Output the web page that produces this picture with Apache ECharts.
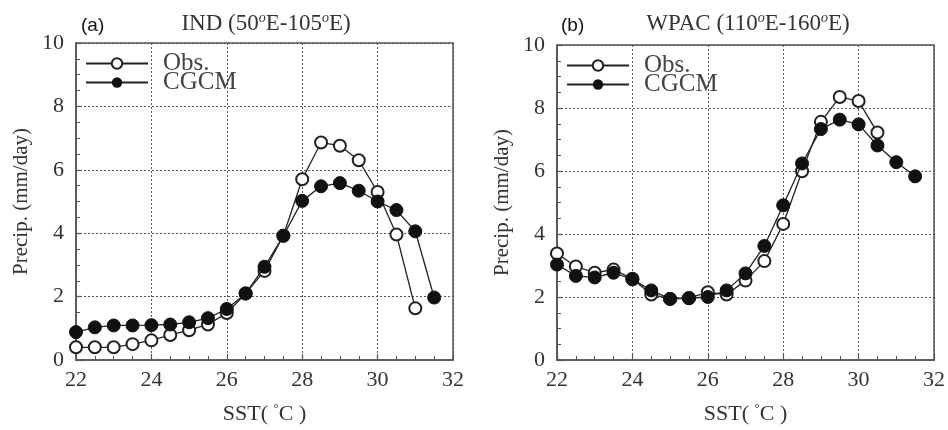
<!DOCTYPE html>
<html>
<head>
<meta charset="utf-8">
<script src="https://cdn.jsdelivr.net/npm/echarts@6/dist/echarts.min.js"></script>
<style>
html,body{margin:0;padding:0;background:#fff;}
#chart{width:948px;height:430px;}
</style>
</head>
<body>
<div id="chart"></div>
<script>
// SST bins (°C)
const sstObsInd  = [22,22.5,23,23.5,24,24.5,25,25.5,26,26.5,27,27.5,28,28.5,29,29.5,30,30.5,31];
const sstCgcm    = [22,22.5,23,23.5,24,24.5,25,25.5,26,26.5,27,27.5,28,28.5,29,29.5,30,30.5,31,31.5];
const sstObsWpac = [22,22.5,23,23.5,24,24.5,25,25.5,26,26.5,27,27.5,28,28.5,29,29.5,30,30.5];

// (a) IND precipitation (mm/day)
const indObs  = [0.40,0.40,0.40,0.50,0.62,0.79,0.94,1.12,1.48,2.10,2.81,3.92,5.70,6.86,6.76,6.30,5.30,3.96,1.63];
const indCgcm = [0.88,1.03,1.09,1.09,1.10,1.12,1.19,1.32,1.61,2.10,2.94,3.92,5.02,5.48,5.58,5.34,5.00,4.73,4.06,1.97];

// (b) WPAC precipitation (mm/day)
const wpacObs  = [3.38,2.97,2.77,2.87,2.58,2.08,1.94,1.97,2.15,2.08,2.52,3.14,4.32,5.99,7.56,8.35,8.22,7.22];
const wpacCgcm = [3.03,2.67,2.62,2.77,2.56,2.21,1.94,1.96,2.00,2.21,2.75,3.62,4.91,6.24,7.33,7.63,7.48,6.81,6.28,5.83];

const xTicks = [22,24,26,28,30,32];
const yTicks = [0,2,4,6,8,10];
const seriesNames = ['Obs.', 'CGCM'];
const panelLabels = ['(a)', '(b)'];
const panelTitles = [['IND (50','E-105','E)'], ['WPAC (110','E-160','E)']];
const xName = 'SST( ';
const yName = 'Precip. (mm/day)';

function pairs(xs, ys){ return xs.map((x,i)=>[x, ys[i]]); }

const SERIF = 'Liberation Serif, DejaVu Serif, serif';
const grids = [
  {left:76, top:43, width:377, height:325},
  {left:557, top:45, width:378, height:324}
];

function makeX(i){
  return {
    type:'value', gridIndex:i, min:xTicks[0], max:xTicks[xTicks.length-1], interval:2,
    axisLine:{show:true, lineStyle:{color:'#555', width:1.5}},
    axisTick:{show:true, inside:true, length:6, lineStyle:{color:'#555', width:1.2}},
    minorTick:{show:true, splitNumber:4, length:4, lineStyle:{color:'#555', width:1}},
    axisLabel:{fontFamily:SERIF, fontSize:22, color:'#333', margin:9},
    splitLine:{show:true, lineStyle:{color:'#555', type:[2,2], width:1}},
    name: '{n|' + xName + '}{s|°}{n|C )}', nameLocation:'middle', nameGap:42,
    nameTextStyle:{rich:{
      n:{fontFamily:SERIF, fontSize:22, color:'#333', lineHeight:24},
      s:{fontFamily:SERIF, fontSize:13, color:'#333', verticalAlign:'top', lineHeight:24, padding:[0,0,6,0]}
    }}
  };
}
function makeY(i){
  return {
    type:'value', gridIndex:i, min:yTicks[0], max:yTicks[yTicks.length-1], interval:2,
    axisLine:{show:true, lineStyle:{color:'#555', width:1.5}},
    axisTick:{show:true, inside:true, length:6, lineStyle:{color:'#555', width:1.2}},
    minorTick:{show:true, splitNumber:4, length:4, lineStyle:{color:'#555', width:1}},
    axisLabel:{fontFamily:SERIF, fontSize:22, color:'#333', margin:12},
    splitLine:{show:true, lineStyle:{color:'#555', type:[2,2], width:1}},
    name: yName, nameLocation:'middle', nameGap:44,
    nameTextStyle:{fontFamily:SERIF, fontSize:21, color:'#333'}
  };
}

function obsSeries(i, data){
  return {
    name:seriesNames[0], type:'line', xAxisIndex:i, yAxisIndex:i, data:data,
    symbol:'emptyCircle', symbolSize:12, z:2,
    lineStyle:{color:'#222', width:1.3},
    itemStyle:{color:'#222', borderWidth:1.3},
    animation:false
  };
}
function cgcmSeries(i, data){
  return {
    name:seriesNames[1], type:'line', xAxisIndex:i, yAxisIndex:i, data:data,
    symbol:'circle', symbolSize:13, z:3,
    lineStyle:{color:'#222', width:1.3},
    itemStyle:{color:'#111', borderColor:'#111'},
    animation:false
  };
}

const titles = [];
panelLabels.forEach((lab, i)=>{
  titles.push({text:lab, left: i===0 ? 76 : 556, top:11,
    textStyle:{fontFamily:'Liberation Sans, Arial, sans-serif', fontSize:19, fontWeight:'normal', color:'#111'}});
  const t = panelTitles[i];
  titles.push({
    text: '{n|'+t[0]+'}{s|o}{n|'+t[1]+'}{s|o}{n|'+t[2]+'}',
    left: i===0 ? 261 : 743, top:6, textAlign:'center',
    textStyle:{fontWeight:'normal', rich:{
      n:{fontFamily:SERIF, fontSize:23, fontWeight:'normal', color:'#333', lineHeight:26},
      s:{fontFamily:SERIF, fontSize:14, fontWeight:'normal', fontStyle:'italic', color:'#333', verticalAlign:'top', lineHeight:26, padding:[0,0,9,0]}
    }}
  });
});

const legends = grids.map((g,i)=>({
  data:seriesNames, orient:'vertical', left:g.left+9, top:g.top+8, padding:0,
  itemWidth:62, itemHeight:13, itemGap:-6,
  textStyle:{fontFamily:SERIF, fontSize:25, color:'#444', lineHeight:20, padding:[0,0,0,10]},
  selectedMode:false
}));

const chart = echarts.init(document.getElementById('chart'), null, {renderer:'canvas'});
chart.setOption({
  animation:false,
  backgroundColor:'#fff',
  title: titles,
  legend: legends,
  grid: grids.map(g=>Object.assign({show:true, borderColor:'#555', borderWidth:1.5, backgroundColor:'transparent'}, g)),
  xAxis:[makeX(0), makeX(1)],
  yAxis:[makeY(0), makeY(1)],
  series:[
    obsSeries(0, pairs(sstObsInd, indObs)),
    cgcmSeries(0, pairs(sstCgcm, indCgcm)),
    obsSeries(1, pairs(sstObsWpac, wpacObs)),
    cgcmSeries(1, pairs(sstCgcm, wpacCgcm))
  ]
});
</script>
</body>
</html>
